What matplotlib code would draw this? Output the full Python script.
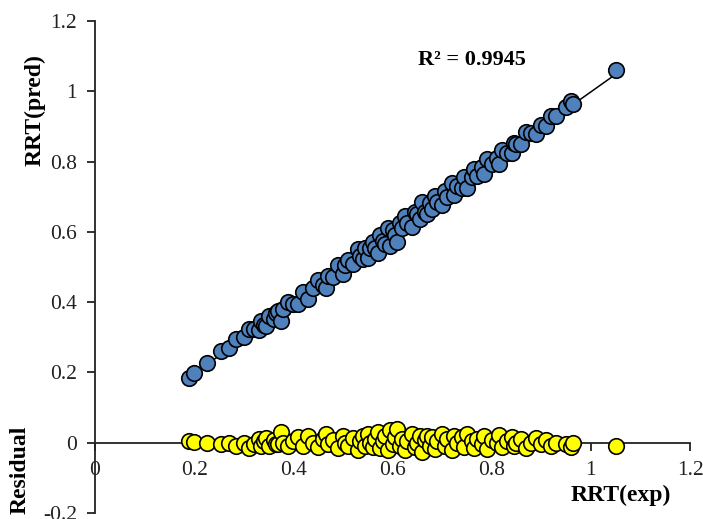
import matplotlib
matplotlib.use("Agg")
import matplotlib.pyplot as plt
import numpy as np

plt.rcParams["font.family"] = ["Liberation Serif", "DejaVu Serif"]

# experimental RRT values (x)
exp = [0.19, 0.20, 0.225, 0.255, 0.27, 0.285, 0.30, 0.31, 0.32, 0.33,
       0.335, 0.34, 0.345, 0.35, 0.36, 0.365, 0.37, 0.375, 0.38, 0.39,
       0.40, 0.41, 0.42, 0.43, 0.44, 0.45, 0.46, 0.465, 0.47, 0.48,
       0.49, 0.50, 0.505, 0.51, 0.52, 0.53, 0.535, 0.54, 0.545, 0.55,
       0.555, 0.56, 0.565, 0.57, 0.575, 0.58, 0.585, 0.59, 0.595, 0.60,
       0.605, 0.61, 0.615, 0.62, 0.625, 0.63, 0.64, 0.645, 0.65, 0.655,
       0.66, 0.665, 0.67, 0.675, 0.68, 0.685, 0.69, 0.70, 0.705, 0.71,
       0.72, 0.725, 0.73, 0.74, 0.745, 0.75, 0.76, 0.765, 0.77, 0.78,
       0.785, 0.79, 0.80, 0.81, 0.815, 0.82, 0.83, 0.84, 0.845, 0.85,
       0.86, 0.87, 0.88, 0.89, 0.90, 0.91, 0.92, 0.93, 0.95, 0.96,
       0.965, 1.05]

# predicted RRT values (y)
pred = [0.185, 0.197, 0.227, 0.26, 0.27, 0.295, 0.30, 0.325, 0.325, 0.32,
        0.345, 0.335, 0.333, 0.36, 0.352, 0.37, 0.375, 0.345, 0.38, 0.40,
        0.395, 0.395, 0.428, 0.41, 0.44, 0.462, 0.45, 0.44, 0.475, 0.472,
        0.505, 0.48, 0.505, 0.52, 0.508, 0.55, 0.53, 0.522, 0.553, 0.525,
        0.555, 0.572, 0.555, 0.54, 0.59, 0.575, 0.565, 0.61, 0.56, 0.605,
        0.59, 0.57, 0.625, 0.61, 0.645, 0.625, 0.615, 0.657, 0.65, 0.637,
        0.685, 0.657, 0.65, 0.683, 0.665, 0.703, 0.685, 0.675, 0.715, 0.70,
        0.74, 0.705, 0.73, 0.725, 0.757, 0.725, 0.755, 0.78, 0.76, 0.785,
        0.765, 0.808, 0.792, 0.81, 0.793, 0.832, 0.825, 0.825, 0.853, 0.85,
        0.85, 0.885, 0.88, 0.878, 0.905, 0.902, 0.93, 0.93, 0.955, 0.972,
        0.965, 1.06]

# residuals (plotted around zero)
residual = [0.005, 0.003, -0.002, -0.005, 0.0, -0.01, 0.0, -0.015, -0.005, 0.01,
            -0.01, 0.005, 0.012, -0.01, 0.008, -0.005, -0.005, 0.03, 0.0, -0.01,
            0.005, 0.015, -0.008, 0.02, 0.0, -0.012, 0.01, 0.025, -0.005, 0.008,
            -0.015, 0.02, 0.0, -0.01, 0.012, -0.02, 0.005, 0.018, -0.008, 0.025,
            0.0, -0.012, 0.01, 0.03, -0.015, 0.005, 0.02, -0.02, 0.035, -0.005,
            0.015, 0.04, -0.01, 0.01, -0.02, 0.005, 0.025, -0.012, 0.0, 0.018,
            -0.025, 0.008, 0.02, -0.008, 0.015, -0.018, 0.005, 0.025, -0.01, 0.01,
            -0.02, 0.02, 0.0, 0.015, -0.012, 0.025, 0.005, -0.015, 0.01, -0.005,
            0.02, -0.018, 0.008, 0.0, 0.022, -0.012, 0.005, 0.015, -0.008, 0.0,
            0.01, -0.015, 0.0, 0.012, -0.005, 0.008, -0.01, 0.0, -0.005, -0.012,
            0.0, -0.01]

xticks = [0, 0.2, 0.4, 0.6, 0.8, 1, 1.2]
xticklabels = ["0", "0.2", "0.4", "0.6", "0.8", "1", "1.2"]
yticks = [-0.2, 0, 0.2, 0.4, 0.6, 0.8, 1, 1.2]
yticklabels = ["-0.2", "0", "0.2", "0.4", "0.6", "0.8", "1", "1.2"]

fig = plt.figure(figsize=(7.03, 5.19), dpi=100)
ax = fig.add_axes([95 / 703, 6 / 519, 595 / 703, 492 / 519])

# linear trendline over the data range
coef = np.polyfit(exp, pred, 1)
xl = np.array([min(exp), max(exp)])
ax.plot(xl, np.polyval(coef, xl), color="black", lw=1.1, zorder=2)

ax.scatter(exp, residual, s=125, facecolor="#ffff00", edgecolor="black",
           linewidth=1.2, zorder=3, clip_on=False)
ax.scatter(exp, pred, s=125, facecolor="#4f81bd", edgecolor="black",
           linewidth=1.2, zorder=4, clip_on=False)

ax.set_xlim(0, 1.2)
ax.set_ylim(-0.2, 1.2)
ax.spines["left"].set_position(("data", 0))
ax.spines["bottom"].set_position(("data", 0))
ax.spines["top"].set_visible(False)
ax.spines["right"].set_visible(False)
for s in ("left", "bottom"):
    ax.spines[s].set_linewidth(1.3)
    ax.spines[s].set_color("#222222")

ax.set_xticks(xticks)
ax.set_xticklabels(xticklabels)
ax.set_yticks(yticks)
ax.set_yticklabels(yticklabels)
ax.tick_params(axis="both", direction="out", length=6, width=1.3,
               labelsize=15.5, colors="#222222")
ax.tick_params(axis="x", pad=7)
ax.tick_params(axis="y", pad=7)

ax.text(0.76, 1.089, "R² = 0.9945", fontsize=16, fontweight="bold",
        ha="center", va="center")
fig.text(35 / 703, 1 - 110 / 519, "RRT(pred)", rotation=90, fontsize=17,
         fontweight="bold", ha="center", va="center")
fig.text(20 / 703, 1 - 470 / 519, "Residual", rotation=90, fontsize=17,
         fontweight="bold", ha="center", va="center")
fig.text(621 / 703, 1 - 495 / 519, "RRT(exp)", fontsize=17,
         fontweight="bold", ha="center", va="center")

fig.savefig("out.png", dpi=100)
